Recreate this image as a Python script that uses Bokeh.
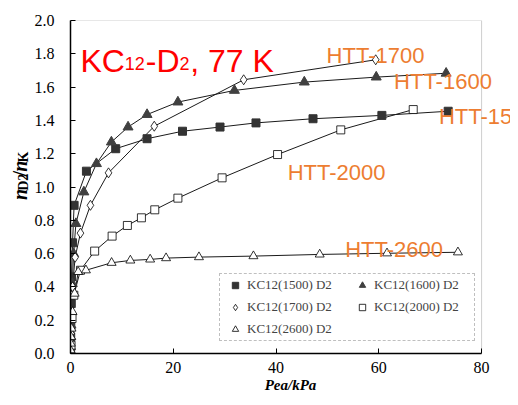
import numpy as np
from bokeh.plotting import figure
from bokeh.layouts import row
from bokeh.models import Label, Legend, LegendItem, FixedTicker, Range1d, BoxAnnotation
from bokeh.embed import file_html
from bokeh.resources import INLINE

# ---------------- data ----------------
x_1500 = [0.02, 0.04, 0.06, 0.1, 0.15, 0.2, 0.4, 0.7, 3.1, 8.8, 14.9, 21.8, 29.1, 36.1, 47.2, 60.6, 73.5]
y_1500 = [0.05, 0.10, 0.16, 0.22, 0.30, 0.46, 0.665, 0.89, 1.095, 1.23, 1.29, 1.335, 1.36, 1.385, 1.41, 1.43, 1.455]

x_1600 = [0.02, 0.05, 0.1, 0.2, 0.35, 0.6, 1.05, 2.6, 5.05, 7.96, 11.2, 14.9, 20.9, 31.9, 45.5, 59.5, 73.1]
y_1600 = [0.04, 0.10, 0.17, 0.25, 0.42, 0.60, 0.78, 0.97, 1.14, 1.27, 1.36, 1.435, 1.51, 1.58, 1.63, 1.66, 1.683]

x_1700 = [0.02, 0.05, 0.1, 0.2, 0.4, 0.9, 1.94, 3.88, 7.4, 16.3, 33.7, 59.4]
y_1700 = [0.03, 0.07, 0.12, 0.22, 0.40, 0.578, 0.723, 0.89, 1.085, 1.365, 1.644, 1.764]

x_2000 = [0.02, 0.1, 0.3, 0.65, 1.94, 4.7, 8.1, 11.07, 13.8, 16.4, 20.9, 29.5, 40.3, 52.6, 66.7]
y_2000 = [0.0, 0.05, 0.21, 0.35, 0.50, 0.615, 0.705, 0.769, 0.815, 0.863, 0.933, 1.055, 1.195, 1.343, 1.465]

x_2600 = [0.02, 0.05, 0.1, 0.2, 0.4, 0.8, 1.5, 3.0, 8.0, 11.65, 15.5, 18.6, 25.0, 35.6, 48.5, 61.6, 75.4]
y_2600 = [0.02, 0.06, 0.10, 0.15, 0.25, 0.36, 0.49, 0.50, 0.545, 0.559, 0.565, 0.573, 0.579, 0.585, 0.595, 0.602, 0.608]

series_names = ["KC12(1500) D2", "KC12(1600) D2", "KC12(1700) D2", "KC12(2000) D2", "KC12(2600) D2"]
htt_labels = ["HTT-1700", "HTT-1600", "HTT-1500", "HTT-2000", "HTT-2600"]
x_title = "Pea/kPa"

x_min, x_max = 0, 80
y_min, y_max = 0.0, 2.0
x_ticks = [0, 20, 40, 60, 80]
x_tick_labels = ["0", "20", "40", "60", "80"]
y_ticks = [0.0, 0.2, 0.4, 0.6, 0.8, 1.0, 1.2, 1.4, 1.6, 1.8, 2.0]
y_tick_labels = ["0.0", "0.2", "0.4", "0.6", "0.8", "1.0", "1.2", "1.4", "1.6", "1.8", "2.0"]

# ---------------- layout geometry (page pixels) ----------------
TOTAL_W, TOTAL_H = 510, 397
YL_W = 31                      # strip holding the y-axis title
MAIN_W, MAIN_H = TOTAL_W - YL_W, TOTAL_H
FRAME_L, FRAME_T, FRAME_B = 69, 20, 353          # plot area edges on the page
PX_PER_X = 412.0 / (x_max - x_min)
PX_PER_Y = (FRAME_B - FRAME_T) / (y_max - y_min)
border_left = FRAME_L - YL_W
frame_w = MAIN_W - border_left
x_end = x_min + frame_w / PX_PER_X   # frame runs to the right page edge

p = figure(width=MAIN_W, height=MAIN_H,
           x_range=Range1d(x_min, x_end), y_range=Range1d(y_min, y_max),
           output_backend="svg", toolbar_location=None, title=None,
           min_border_left=border_left, min_border_right=0,
           min_border_top=FRAME_T, min_border_bottom=MAIN_H - FRAME_B)
p.xgrid.visible = False
p.ygrid.visible = False
p.outline_line_color = None
p.background_fill_color = "white"
p.border_fill_color = "white"

# plot-area box (top / right edges grey)
p.add_layout(BoxAnnotation(left=x_min, right=x_max, bottom=y_min, top=y_max,
                           fill_alpha=0, line_color="#606060", line_width=1, level="underlay"))


def fx(X):  # page pixel -> data x
    return x_min + (X - FRAME_L) / PX_PER_X


def fy(Y):  # page pixel -> data y
    return y_min + (FRAME_B - Y) / PX_PER_Y


for ax, ticks, labs in ((p.xaxis, x_ticks, x_tick_labels), (p.yaxis, y_ticks, y_tick_labels)):
    ax.ticker = FixedTicker(ticks=ticks)
    ax.major_label_overrides = {t: s for t, s in zip(ticks, labs)}
    ax.major_tick_in = 5
    ax.major_tick_out = 0
    ax.minor_tick_line_color = None
    ax.axis_line_color = "black"
    ax.axis_line_width = 1.5
    ax.major_tick_line_color = "black"
    ax.major_label_text_font = "Liberation Serif"
    ax.major_label_text_font_size = "16px"
    ax.major_label_text_color = "black"
p.xaxis.bounds = (x_min, x_max)
p.xaxis.major_label_standoff = 8
p.yaxis.major_label_standoff = 16
p.xaxis.axis_label = x_title
p.xaxis.axis_label_standoff = 1
p.xaxis.axis_label_text_font = "Liberation Serif"
p.xaxis.axis_label_text_font_size = "15px"
p.xaxis.axis_label_text_font_style = "bold italic"
p.xaxis.axis_label_text_color = "black"

# ---------------- series ----------------
line_kw = dict(line_color="#1a1a1a", line_width=1)
p.line(x_1500, y_1500, **line_kw)
p.line(x_1600, y_1600, **line_kw)
p.line(x_1700, y_1700, **line_kw)
p.line(x_2000, y_2000, **line_kw)
p.line(x_2600, y_2600, **line_kw)

r1500 = p.scatter(x_1500, y_1500, marker="square", size=8, fill_color="#333333", line_color="#333333")
r1600 = p.scatter(x_1600, y_1600, marker="triangle", size=10, fill_color="#404040", line_color="#404040")
r1700 = p.scatter(x_1700, y_1700, marker="diamond", size=10, fill_color="white", line_color="black", line_width=0.8)
r2000 = p.scatter(x_2000, y_2000, marker="square", size=8, fill_color="white", line_color="black", line_width=0.8)
r2600 = p.scatter(x_2600, y_2600, marker="triangle", size=9, fill_color="white", line_color="black", line_width=0.8)

legend = Legend(items=[LegendItem(label=n, renderers=[r]) for n, r in
                       zip(series_names, [r1500, r1600, r1700, r2000, r2600])],
                location=(149, 12), orientation="horizontal", ncols=2,
                label_text_font="Liberation Serif", label_text_font_size="13px",
                glyph_width=24, glyph_height=16, label_height=16, label_width=97,
                label_standoff=0, spacing=6, padding=3, margin=0,
                border_line_color="#808080", border_line_dash="2 2", border_line_width=1,
                background_fill_color="white", background_fill_alpha=1)
p.add_layout(legend)

# ---------------- annotations ----------------
orange = "#ED7D31"
htt_pos = [(325.7, 55), (393.3, 80.7), (438.3, 115.7), (286.7, 172.4), (344.3, 249)]
for txt, (X, Y) in zip(htt_labels, htt_pos):
    p.add_layout(Label(x=fx(X), y=fy(Y), text=txt, text_font="Liberation Sans",
                       text_font_size="22px", text_color=orange, text_baseline="alphabetic"))

# title  KC12-D2, 77 K
title_parts = [("KC", 79, 60, "32px"), ("12", 123.4, 63, "18px"), ("-D", 144.5, 60, "32px"),
               ("2", 178.3, 63, "18px"), (", 77 K", 188.9, 60, "32px")]
for txt, X, Y, fs in title_parts:
    p.add_layout(Label(x=fx(X), y=fy(Y), text=txt, text_font="Liberation Sans",
                       text_font_size=fs, text_color="#FF0000", text_baseline="alphabetic"))

# ---------------- y-axis title strip:  n_D2 / n_K ----------------
yl = figure(width=YL_W, height=MAIN_H, x_range=Range1d(0, YL_W), y_range=Range1d(0, MAIN_H),
            output_backend="svg", toolbar_location=None, x_axis_type=None, y_axis_type=None,
            title=None, min_border=0)
yl.outline_line_color = None
yl.xgrid.visible = False
yl.ygrid.visible = False
ylab_parts = [("n", 19, 214, "20px", "bold italic"), ("D2", 23, 203, "14px", "bold"),
              ("/", 19, 185.9, "20px", "bold"), ("n", 19, 180.3, "20px", "bold italic"),
              ("K", 23, 169.3, "14px", "bold")]
for txt, X, Y, fs, st in ylab_parts:
    yl.add_layout(Label(x=X, y=MAIN_H - Y, text=txt, angle=np.pi / 2, text_font="Liberation Serif",
                        text_font_size=fs, text_font_style=st, text_color="black",
                        text_baseline="alphabetic"))

layout = row(yl, p, spacing=0)
open("out.html", "w").write(file_html(layout, INLINE))
